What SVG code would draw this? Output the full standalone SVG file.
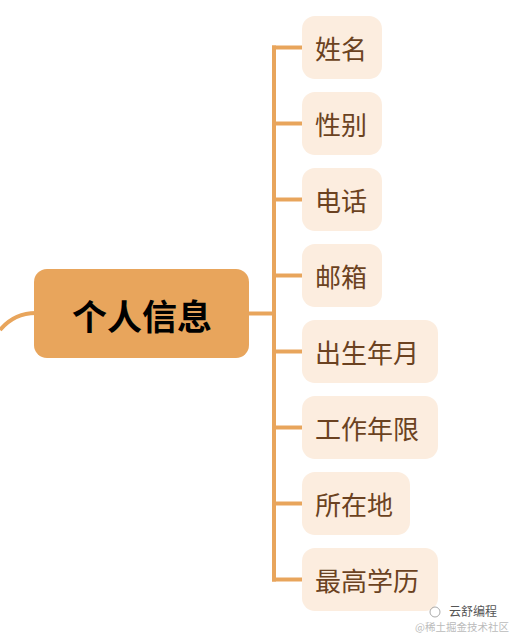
<svg xmlns="http://www.w3.org/2000/svg" width="514" height="636" viewBox="0 0 514 636">
<style>
.conn{fill:none;stroke:#E8A55C;stroke-width:4;stroke-linecap:butt}
.child rect{fill:#FCEDDF}
.child text{font-family:"Noto Sans CJK SC","Noto Sans",sans-serif;font-size:26px;fill:#6B4221;dominant-baseline:central}
.main text{font-family:"Noto Sans CJK SC","Noto Sans",sans-serif;font-size:35px;font-weight:bold;fill:#000;text-anchor:middle;dominant-baseline:central}
.wm{font-family:"Noto Sans CJK SC",sans-serif}
</style>
<rect width="514" height="636" fill="#fff"/>
<g id="connectors">
<path class="conn" d="M0,330 C10,318 22,313 36,313"/>
<path class="conn" d="M248,313.5 H274"/>
<path class="conn" d="M274,45.5 V581.5"/>
<path class="conn" d="M272,47.5 H304"/>
<path class="conn" d="M272,123.5 H304"/>
<path class="conn" d="M272,199.5 H304"/>
<path class="conn" d="M272,275.5 H304"/>
<path class="conn" d="M272,351.5 H304"/>
<path class="conn" d="M272,427.5 H304"/>
<path class="conn" d="M272,503.5 H304"/>
<path class="conn" d="M272,579.5 H304"/>
</g>
<g id="main" class="main">
<rect x="34" y="269" width="215" height="89" rx="13" fill="#E8A55C"/>
<text x="142" y="314">个人信息</text>
</g>
<g id="n1" class="child"><rect x="302" y="16" width="80" height="63" rx="13"/><text x="315" y="47.5">姓名</text></g>
<g id="n2" class="child"><rect x="302" y="92" width="80" height="63" rx="13"/><text x="315" y="123.5">性别</text></g>
<g id="n3" class="child"><rect x="302" y="168" width="80" height="63" rx="13"/><text x="315" y="199.5">电话</text></g>
<g id="n4" class="child"><rect x="302" y="244" width="80" height="63" rx="13"/><text x="315" y="275.5">邮箱</text></g>
<g id="n5" class="child"><rect x="302" y="320" width="136" height="63" rx="13"/><text x="315" y="351.5">出生年月</text></g>
<g id="n6" class="child"><rect x="302" y="396" width="136" height="63" rx="13"/><text x="315" y="427.5">工作年限</text></g>
<g id="n7" class="child"><rect x="302" y="472" width="108" height="63" rx="13"/><text x="315" y="503.5">所在地</text></g>
<g id="n8" class="child"><rect x="302" y="548" width="136" height="63" rx="13"/><text x="315" y="579.5">最高学历</text></g>
<g id="watermark">
<circle cx="435" cy="612" r="5" fill="none" stroke="#aaa" stroke-width="1"/>
<text class="wm" x="449" y="616" font-size="12" fill="#555">云舒编程</text>
<text class="wm" x="415" y="631" font-size="10.5" fill="#bbb">@稀土掘金技术社区</text>
</g>
</svg>
